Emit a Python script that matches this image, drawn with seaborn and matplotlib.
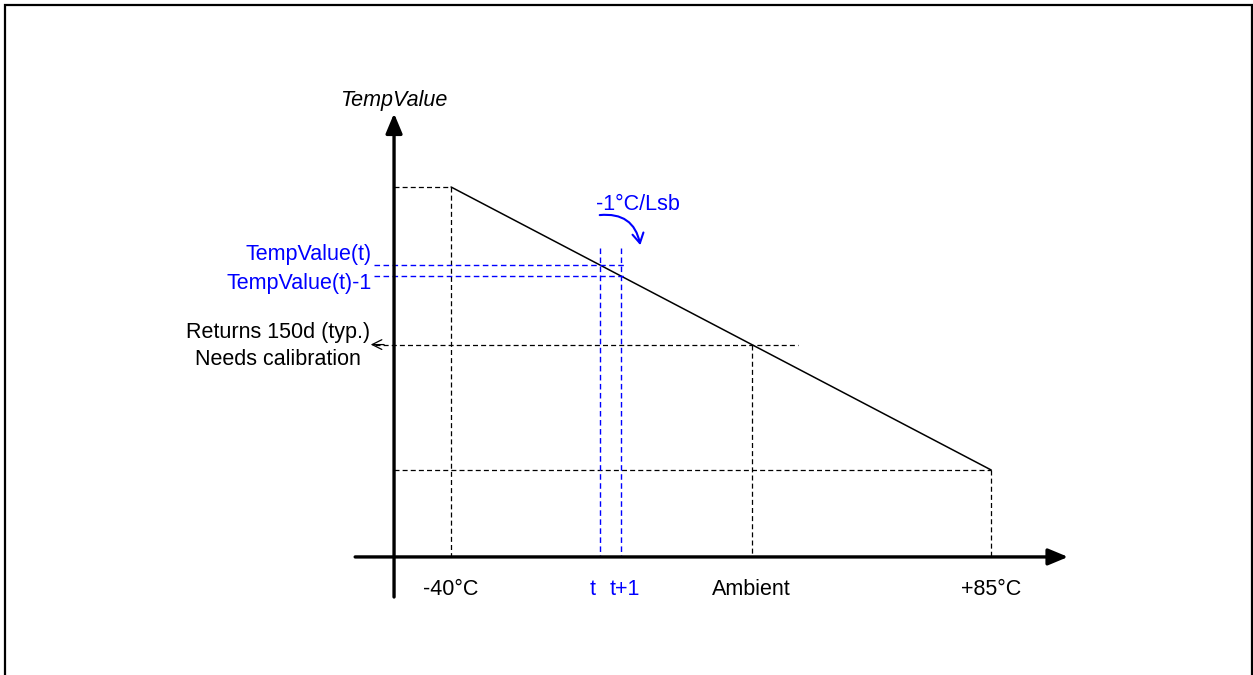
import matplotlib
matplotlib.use("Agg")
import matplotlib.pyplot as plt
from matplotlib.patches import Rectangle
import seaborn as sns
import pandas as pd

# ---- data (schematic transfer function) ----
temps = [-40, 85]              # °C end points
values = [220, 95]             # TempValue at end points (-1 LSB per °C)
t_ambient = 29.6
v_ambient = 150.4
t_step = [-5.5, -0.6]          # t, t+1
v_step = [185.5, 180.6]        # TempValue(t), TempValue(t)-1
tick_positions = [-40, -5.5, -0.6, 29.6, 85]
tick_labels = ["-40°C", "t", "t+1", "Ambient", "+85°C"]
tick_colors = ["black", "blue", "blue", "black", "black"]

# axis origin (where the drawn axes cross)
x_origin = -53.2
y_origin = 56.6

sns.set_theme(style="white")
plt.rcParams["font.family"] = ["Liberation Sans", "DejaVu Sans"]
plt.rcParams["text.color"] = "black"

W, H = 1253, 675
fig = plt.figure(figsize=(W / 100, H / 100), dpi=100)
ax = fig.add_axes([0, 0, 1, 1])
ax.set_xlim(-144.4, 145.6)
ax.set_ylim(4.45, 302.6)
ax.axis("off")

FS = 15.5
BLUE = "#0000ff"
dash = (0, (4, 2.5))

# frame around the picture
fig.patches.append(Rectangle((5 / W, -0.05), (1252 - 5) / W, 1.05 - 5 / H,
                             transform=fig.transFigure, fill=False,
                             edgecolor="black", lw=1.6))

# main transfer line
df = pd.DataFrame({"T": temps, "V": values})
sns.lineplot(data=df, x="T", y="V", color="black", lw=1.1, ax=ax)

# axes with arrows
arrow_kw = dict(arrowstyle="-|>,head_length=1.2,head_width=0.5",
                color="black", lw=2.4, mutation_scale=10, shrinkA=0, shrinkB=0)
ax.annotate("", xy=(102.8, y_origin), xytext=(-62.2, y_origin), arrowprops=arrow_kw)
ax.annotate("", xy=(x_origin, 252.5), xytext=(x_origin, 38.9), arrowprops=arrow_kw)

# black dashed guides
for T, V in zip(temps, values):
    ax.plot([x_origin, T], [V, V], color="black", lw=0.9, ls=dash)
    ax.plot([T, T], [V, y_origin], color="black", lw=0.9, ls=dash)

# ambient guides
ax.plot([t_ambient, t_ambient], [v_ambient, y_origin], color="black", lw=0.9, ls=dash)
ax.plot([-57.5, t_ambient + 10.6], [v_ambient, v_ambient], color="black", lw=0.9, ls=dash)
ax.annotate("", xy=(-58.6, v_ambient), xytext=(-55.5, v_ambient),
            arrowprops=dict(arrowstyle="->,head_length=0.7,head_width=0.35",
                            color="black", lw=0.9, mutation_scale=10,
                            shrinkA=0, shrinkB=0))

# blue step guides
for T in t_step:
    ax.plot([T, T], [193, y_origin], color=BLUE, lw=1.0, ls=dash)
for V in v_step:
    ax.plot([-57.8, t_step[1] + 1.0], [V, V], color=BLUE, lw=1.0, ls=dash)

# texts
ax.text(x_origin, 258.4, "TempValue", ha="center", va="center", fontsize=FS,
        style="italic", color="black")
ax.text(-58.3, 190.2, "TempValue(t)", ha="right", va="center", fontsize=FS, color=BLUE)
ax.text(-58.3, 177.4, "TempValue(t)-1", ha="right", va="center", fontsize=FS, color=BLUE)
ax.text(-80.0, 155.6, "Returns 150d (typ.)", ha="center", va="center", fontsize=FS)
ax.text(-80.0, 144.0, "Needs calibration", ha="center", va="center", fontsize=FS)
ax.text(3.3, 212.2, "-1°C/Lsb", ha="center", va="center", fontsize=FS, color=BLUE)
ax.annotate("", xy=(3.8, 194.3), xytext=(-5.6, 207.6),
            arrowprops=dict(arrowstyle="->,head_length=0.7,head_width=0.4",
                            color=BLUE, lw=1.5, mutation_scale=10,
                            connectionstyle="arc3,rad=-0.45",
                            shrinkA=0, shrinkB=0))

# tick labels under the x axis
offsets = {"t": -1.8, "t+1": 0.9}
for pos, lab, col in zip(tick_positions, tick_labels, tick_colors):
    ax.text(pos + offsets.get(lab, 0), 42.0, lab, ha="center", va="center",
            fontsize=FS, color=col)

fig.savefig("out.png", dpi=100)
